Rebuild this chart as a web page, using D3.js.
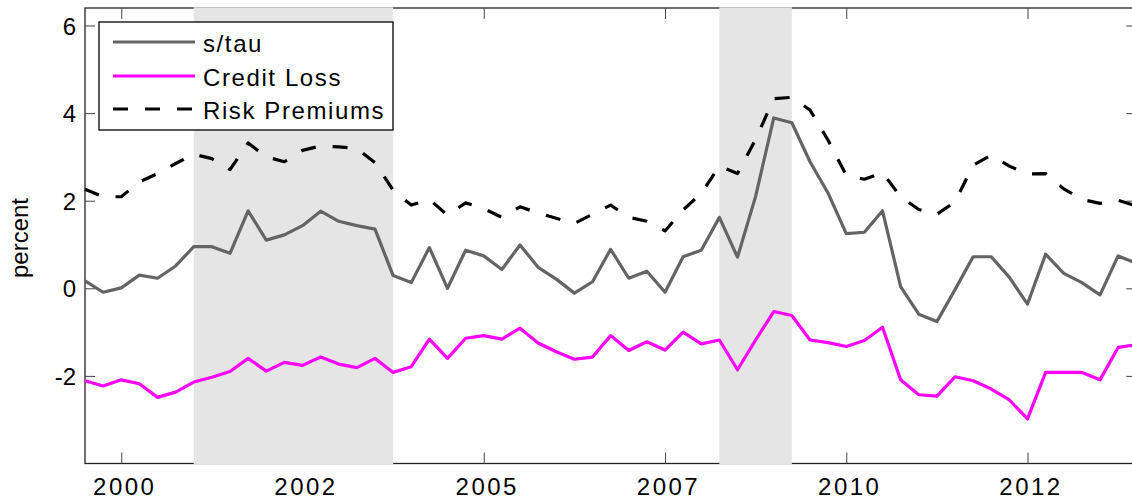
<!DOCTYPE html>
<html><head><meta charset="utf-8">
<script src="https://cdn.jsdelivr.net/npm/d3@7"></script>
<style>
body{margin:0;background:#fff;overflow:hidden}
svg{display:block}
text{font-family:"Liberation Sans",Arial,Helvetica,sans-serif;fill:#000}
</style></head><body>
<svg id="chart" width="1132" height="504"></svg>
<script>
// ---------------- data ----------------
const quarters = ["1999Q3","1999Q4",
 "2000Q1","2000Q2","2000Q3","2000Q4","2001Q1","2001Q2","2001Q3","2001Q4",
 "2002Q1","2002Q2","2002Q3","2002Q4","2003Q1","2003Q2","2003Q3","2003Q4",
 "2004Q1","2004Q2","2004Q3","2004Q4","2005Q1","2005Q2","2005Q3","2005Q4",
 "2006Q1","2006Q2","2006Q3","2006Q4","2007Q1","2007Q2","2007Q3","2007Q4",
 "2008Q1","2008Q2","2008Q3","2008Q4","2009Q1","2009Q2","2009Q3","2009Q4",
 "2010Q1","2010Q2","2010Q3","2010Q4","2011Q1","2011Q2","2011Q3","2011Q4",
 "2012Q1","2012Q2","2012Q3","2012Q4","2013Q1","2013Q2","2013Q3","2013Q4",
 "2014Q1"];
const sTau = [0.17,-0.09,0.01,0.30,0.23,0.51,0.95,0.95,0.80,1.77,1.10,1.22,1.43,1.76,1.53,1.43,1.35,0.29,
 0.13,0.93,0.00,0.87,0.74,0.43,0.99,0.48,0.21,-0.11,0.15,0.89,0.23,0.39,-0.09,0.72,0.87,1.62,0.71,
 2.10,3.89,3.78,2.89,2.17,1.25,1.28,1.77,0.04,-0.59,-0.76,-0.03,0.72,0.72,0.25,-0.36,0.78,0.34,0.13,-0.15,0.74,0.57];
const creditLoss = [-2.11,-2.23,-2.09,-2.18,-2.49,-2.37,-2.14,-2.03,-1.90,-1.60,-1.89,-1.69,-1.76,-1.57,-1.73,-1.81,-1.60,-1.92,
 -1.79,-1.16,-1.60,-1.14,-1.08,-1.16,-0.91,-1.25,-1.45,-1.62,-1.57,-1.08,-1.42,-1.22,-1.41,-1.00,-1.27,-1.18,-1.86,
 -1.18,-0.53,-0.62,-1.18,-1.24,-1.33,-1.19,-0.89,-2.09,-2.43,-2.46,-2.02,-2.11,-2.30,-2.55,-2.98,-1.92,-1.92,-1.92,-2.09,-1.35,-1.29];
const riskPremiums = [2.26,2.09,2.09,2.43,2.62,2.85,3.06,2.96,2.71,3.32,3.00,2.89,3.15,3.25,3.23,3.19,2.87,2.24,
 1.90,2.03,1.67,1.95,1.82,1.62,1.86,1.72,1.60,1.48,1.69,1.90,1.62,1.53,1.31,1.79,2.17,2.79,2.62,
 3.40,4.33,4.36,4.07,3.38,2.58,2.49,2.64,2.09,1.80,1.69,1.97,2.81,3.04,2.79,2.61,2.62,2.27,2.03,1.94,2.01,1.88];
const shadeStart = ["2001Q1","2008Q2"];
const shadeEnd   = ["2003Q4","2009Q2"];
const xTickValues = [2000, 2002.5, 2005, 2007.5, 2010, 2012.5];
const xTickLabels = ["2000","2002","2005","2007","2010","2012"];
const yTickValues = [-2, 0, 2, 4, 6];
const yTickLabels = ["-2","0","2","4","6"];
const seriesNames = ["s/tau","Credit Loss","Risk Premiums"];

// ---------------- helpers ----------------
const qToYear = q => +q.slice(0,4) + (+q.slice(5) - 1) / 4;
const years = quarters.map(qToYear);

const svg = d3.select("#chart");
const L = 85, R = 1136.25, T = 8, B = 463.5;
const x = d3.scaleLinear().domain([1999.5, 2014.0]).range([L, R]);
const y = d3.scaleLinear().domain([-4, 6.4]).range([B, T]);

// axes box
const axCol = "#222";
svg.append("rect").attr("x", L).attr("y", T).attr("width", R - L).attr("height", B - T)
  .attr("fill", "#fff").attr("stroke", axCol).attr("stroke-width", 1.3);

// ticks
const gBottom = svg.append("g").attr("transform", `translate(0,${B})`)
  .call(d3.axisBottom(x).tickValues(xTickValues).tickSize(-11).tickFormat((d,i)=>xTickLabels[i]));
const gTop = svg.append("g").attr("transform", `translate(0,${T})`)
  .call(d3.axisTop(x).tickValues(xTickValues).tickSize(-11).tickFormat(""));
const gLeft = svg.append("g").attr("transform", `translate(${L},0)`)
  .call(d3.axisLeft(y).tickValues(yTickValues).tickSize(-10).tickFormat((d,i)=>yTickLabels[i]));
const gRight = svg.append("g").attr("transform", `translate(${R},0)`)
  .call(d3.axisRight(y).tickValues(yTickValues).tickSize(-10).tickFormat(""));
[gBottom, gTop, gLeft, gRight].forEach(g => {
  g.select(".domain").remove();
  g.selectAll(".tick line").attr("stroke", "#444").attr("stroke-width", 1);
});
gBottom.selectAll(".tick text")
  .attr("y", 31).attr("dy", 0).attr("dx", 3)
  .style("font-size", "24px").style("letter-spacing", "2.5px")
  .attr("fill", "#000");
gLeft.selectAll(".tick text")
  .attr("x", -9).attr("dy", "0.36em")
  .style("font-size", "24px")
  .attr("fill", "#000");

// shaded periods (drawn above axes, below lines)
svg.append("g").selectAll("rect").data(shadeStart).join("rect")
  .attr("x", (d) => x(qToYear(d)))
  .attr("width", (d,i) => x(qToYear(shadeEnd[i])) - x(qToYear(d)))
  .attr("y", T - 0.7).attr("height", B - T + 1.4)
  .attr("fill", "#e5e5e5");

// lines
const styles = [
  {values: sTau, color: "#646464", dash: null},
  {values: creditLoss, color: "#ff00ff", dash: null},
  {values: riskPremiums, color: "#000", dash: "15,17"}
];
const lineGen = d3.line().x(d => x(d[0])).y(d => y(d[1]));
styles.forEach(s => {
  svg.append("path")
    .datum(years.map((yr,i) => [yr, s.values[i]]))
    .attr("d", lineGen)
    .attr("fill", "none")
    .attr("stroke", s.color)
    .attr("stroke-width", 3.2)
    .attr("stroke-linejoin", "round")
    .attr("stroke-dasharray", s.dash);
});

// y label
svg.append("text")
  .attr("transform", "translate(28,238) rotate(-90)")
  .attr("text-anchor", "middle")
  .style("font-size", "24px")
  .text("percent");

// legend
const lg = svg.append("g");
lg.append("rect").attr("x", 99).attr("y", 22).attr("width", 294).attr("height", 108)
  .attr("fill", "#fff").attr("stroke", "#000").attr("stroke-width", 1.3);
const legendY = [42, 76, 109];
seriesNames.forEach((name, i) => {
  lg.append("line").attr("x1", 113).attr("x2", 195)
    .attr("y1", legendY[i]).attr("y2", legendY[i])
    .attr("stroke", styles[i].color).attr("stroke-width", 3.2)
    .attr("stroke-dasharray", styles[i].dash);
  lg.append("text").attr("x", 203).attr("y", legendY[i] + 9.5)
    .style("font-size", "24px").style("letter-spacing", "1.6px")
    .text(name);
});
</script>
</body></html>
